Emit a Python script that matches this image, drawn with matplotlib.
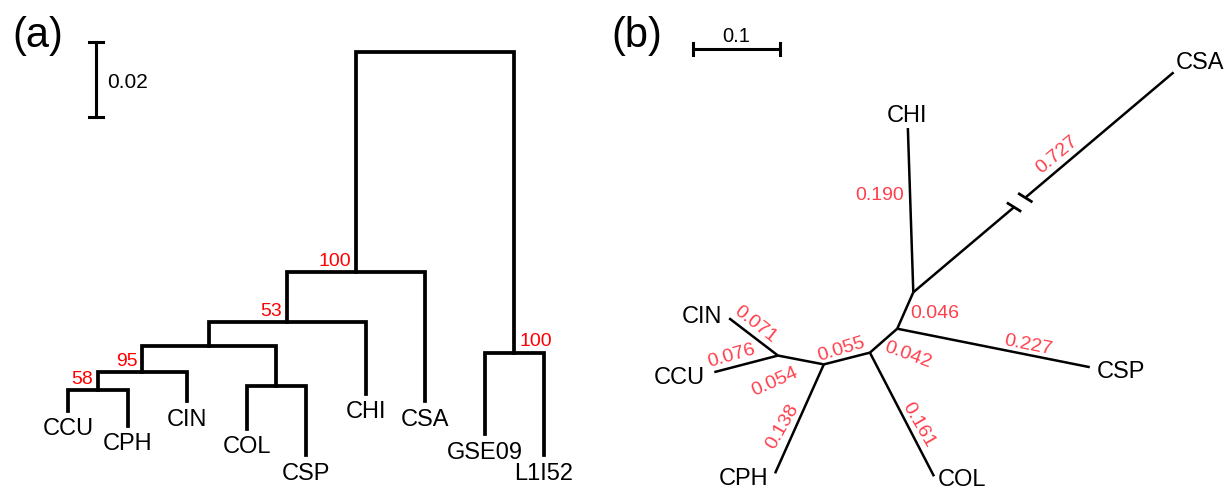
import matplotlib
matplotlib.use('Agg')
import matplotlib.pyplot as plt
import numpy as np

plt.rcParams['font.family'] = ['Liberation Sans', 'DejaVu Sans']

# ---------------- Panel (a) data: rooted dendrogram ----------------
leaf_names_a = ['CCU', 'CPH', 'CIN', 'COL', 'CSP', 'CHI', 'CSA', 'GSE09', 'L1I52']
leaf_depth_a = [0.0957, 0.0997, 0.0931, 0.1005, 0.1075, 0.0912, 0.0931, 0.1019, 0.1075]
node_names_a = ['n58', 'n95', 'nOS', 'nX', 'n53', 'n100a', 'n100b', 'root']
node_children_a = [['CCU', 'CPH'], ['n58', 'CIN'], ['COL', 'CSP'], ['n95', 'nOS'],
                   ['nX', 'CHI'], ['n53', 'CSA'], ['GSE09', 'L1I52'], ['n100a', 'n100b']]
node_depth_a = [0.0901, 0.0853, 0.0891, 0.0784, 0.0720, 0.0587, 0.0803, 0.0]
node_support_a = ['58', '95', '', '', '53', '100', '100', '']
scale_a = 0.02
scale_label_a = '0.02'

# ---------------- Panel (b) data: unrooted tree ----------------
edge_parent_b = ['A', 'A', 'A', 'B', 'B', 'C', 'C', 'D', 'D', 'E', 'E']
edge_child_b = ['CHI', 'CSA', 'B', 'CSP', 'C', 'COL', 'D', 'CPH', 'E', 'CIN', 'CCU']
edge_length_b = [0.190, 0.727, 0.046, 0.227, 0.042, 0.161, 0.055, 0.138, 0.054, 0.071, 0.076]
edge_label_b = ['0.190', '0.727', '0.046', '0.227', '0.042', '0.161', '0.055', '0.138',
                '0.054', '0.071', '0.076']
scale_b = 0.1
scale_label_b = '0.1'
broken_edge_b = 'CSA'

# ---------------- layout / style ----------------
W, H, DPI = 1226, 489, 100
BLACK = '#000000'
RED_A = '#ff0000'
RED_B = '#ff3f4c'
LEAF_FS = 17
SUP_FS = 14
BL_FS = 14

fig = plt.figure(figsize=(W / DPI, H / DPI), dpi=DPI)
fig.patch.set_facecolor('white')

# ---- panel (a) axes: x in leaf-slot units, y = distance from root (down) ----
ax_a = fig.add_axes([0, 0, 1, 1])
x0_px, slot_px = 68.0, 59.5
root_py, px_per_unit_a = 53.0, 75.0 / 0.02
ax_a.set_xlim(-x0_px / slot_px, (W - x0_px) / slot_px)
ax_a.set_ylim((H - root_py) / px_per_unit_a, -root_py / px_per_unit_a)
ax_a.axis('off')

xpos = {n: i for i, n in enumerate(leaf_names_a)}
depth = dict(zip(leaf_names_a, leaf_depth_a))
depth.update(dict(zip(node_names_a, node_depth_a)))
for n, ch in zip(node_names_a, node_children_a):
    xpos[n] = np.mean([xpos[c] for c in ch])

lw_a = 2.7
for n, ch in zip(node_names_a, node_children_a):
    c1, c2 = ch
    xs = [xpos[c1], xpos[c1], xpos[c2], xpos[c2]]
    ys = [depth[c1], depth[n], depth[n], depth[c2]]
    ax_a.plot(xs, ys, color=BLACK, lw=lw_a, solid_joinstyle='miter',
              solid_capstyle='projecting')

support_side_a = ['left', 'left', '', '', 'left', 'left', 'right', '']
for n, s, side in zip(node_names_a, node_support_a, support_side_a):
    if not s:
        continue
    if side == 'left':
        ax_a.annotate(s, (xpos[n], depth[n]), xytext=(-5, 7), textcoords='offset pixels',
                      ha='right', va='baseline', color=RED_A, fontsize=SUP_FS)
    else:
        ax_a.annotate(s, (xpos[n], depth[n]), xytext=(5, 8), textcoords='offset pixels',
                      ha='left', va='baseline', color=RED_A, fontsize=SUP_FS)

for n in leaf_names_a:
    ax_a.annotate(n, (xpos[n], depth[n]), xytext=(0, -23.5), textcoords='offset pixels',
                  ha='center', va='baseline', color=BLACK, fontsize=LEAF_FS)

# scale bar (a)
sb_x = (96 - x0_px) / slot_px
sb_top = (43 - root_py) / px_per_unit_a
cap = 7 / slot_px
ax_a.plot([sb_x, sb_x], [sb_top, sb_top + scale_a], color=BLACK, lw=2.2)
for yy in (sb_top, sb_top + scale_a):
    ax_a.plot([sb_x - cap, sb_x + cap], [yy, yy], color=BLACK, lw=2.2)
ax_a.annotate(scale_label_a, (sb_x, sb_top + scale_a / 2), xytext=(11, -7),
              textcoords='offset pixels', ha='left', va='baseline', fontsize=15, color=BLACK)

# ---- panel (b) axes: equal-scale distance units ----
ax_b = fig.add_axes([0, 0, 1, 1])
ax_b.patch.set_visible(False)
ox, oy, ppu = 913.3, 293.3, 865.0
ax_b.set_xlim(-ox / ppu, (W - ox) / ppu)
ax_b.set_ylim((oy - H) / ppu, oy / ppu)
ax_b.axis('off')

edge_angle_b = [91.9, 40.2, 246.2, -11.3, 221.2, -62.6, 194.3, 245.9, 169.1, 142.6, 194.6]
broken_display_len = 0.394
pos = {'A': np.array([0.0, 0.0])}
for p, c, L, ang in zip(edge_parent_b, edge_child_b, edge_length_b, edge_angle_b):
    Ld = broken_display_len if c == broken_edge_b else L
    a = np.deg2rad(ang)
    pos[c] = pos[p] + Ld * np.array([np.cos(a), np.sin(a)])

lw_b = 1.8
for p, c, ang in zip(edge_parent_b, edge_child_b, edge_angle_b):
    P, Q = pos[p], pos[c]
    if c == broken_edge_b:
        u = (Q - P) / np.linalg.norm(Q - P)
        t1, t2 = 0.1525, 0.1695
        b1, b2 = P + t1 * u, P + t2 * u
        ax_b.plot([P[0], b1[0]], [P[1], b1[1]], color=BLACK, lw=lw_b, solid_capstyle='butt')
        ax_b.plot([b2[0], Q[0]], [b2[1], Q[1]], color=BLACK, lw=lw_b, solid_capstyle='butt')
        ta = np.deg2rad(-32)
        v = 0.0098 * np.array([np.cos(ta), np.sin(ta)])
        for b in (b1, b2):
            ax_b.plot([b[0] - v[0], b[0] + v[0]], [b[1] - v[1], b[1] + v[1]],
                      color=BLACK, lw=2.0, solid_capstyle='butt')
    else:
        ax_b.plot([P[0], Q[0]], [P[1], Q[1]], color=BLACK, lw=lw_b, solid_capstyle='butt')

lab_off_b = [(-30.6, 15.2), (13.2, 28.3), (29.7, -1.8), (34.5, 4.0), (24.7, -13.3),
             (16.3, -9.5), (-5.2, 10.2), (-16.8, -6.8), (-25.9, -20.7), (1.5, 13.0),
             (-14.4, 8.9)]
lab_rot_b = [0, 40, 0, -11, -20, -60, 17, 60, 24, -38, 16]
for p, c, lab, off, rot in zip(edge_parent_b, edge_child_b, edge_label_b, lab_off_b, lab_rot_b):
    mid = (pos[p] + pos[c]) / 2
    ax_b.annotate(lab, tuple(mid), xytext=off, textcoords='offset pixels',
                  ha='center', va='center', rotation=rot, rotation_mode='anchor',
                  color=RED_B, fontsize=BL_FS)

tip_lab_b = {'CHI': (-0.8, 7.5, 'center'), 'CSA': (2.4, 4.1, 'left'),
             'CSP': (6.9, -9.6, 'left'), 'COL': (4.0, -8.5, 'left'),
             'CPH': (-7.1, -10.8, 'right'), 'CCU': (-9.3, -11.3, 'right'),
             'CIN': (-7.4, -3.5, 'right')}
for name, (dx, dy, ha) in tip_lab_b.items():
    ax_b.annotate(name, tuple(pos[name]), xytext=(dx, dy), textcoords='offset pixels',
                  ha=ha, va='baseline', color=BLACK, fontsize=LEAF_FS)

# scale bar (b)
sbx0 = (693 - ox) / ppu
sby = (oy - 50) / ppu
capb = 6 / ppu
ax_b.plot([sbx0, sbx0 + scale_b], [sby, sby], color=BLACK, lw=2.2, solid_capstyle='butt')
for xx in (sbx0, sbx0 + scale_b):
    ax_b.plot([xx, xx], [sby - capb, sby + capb], color=BLACK, lw=2.2)
ax_b.annotate(scale_label_b, (sbx0 + scale_b / 2, sby), xytext=(0, 7.5),
              textcoords='offset pixels', ha='center', va='baseline', fontsize=14.5, color=BLACK)

# panel letters
fig.text(12 / W, 1 - 36 / H, '(a)', ha='left', va='center', fontsize=30, color=BLACK)
fig.text(611 / W, 1 - 36 / H, '(b)', ha='left', va='center', fontsize=30, color=BLACK)

fig.savefig('out.png', dpi=DPI, facecolor='white')
